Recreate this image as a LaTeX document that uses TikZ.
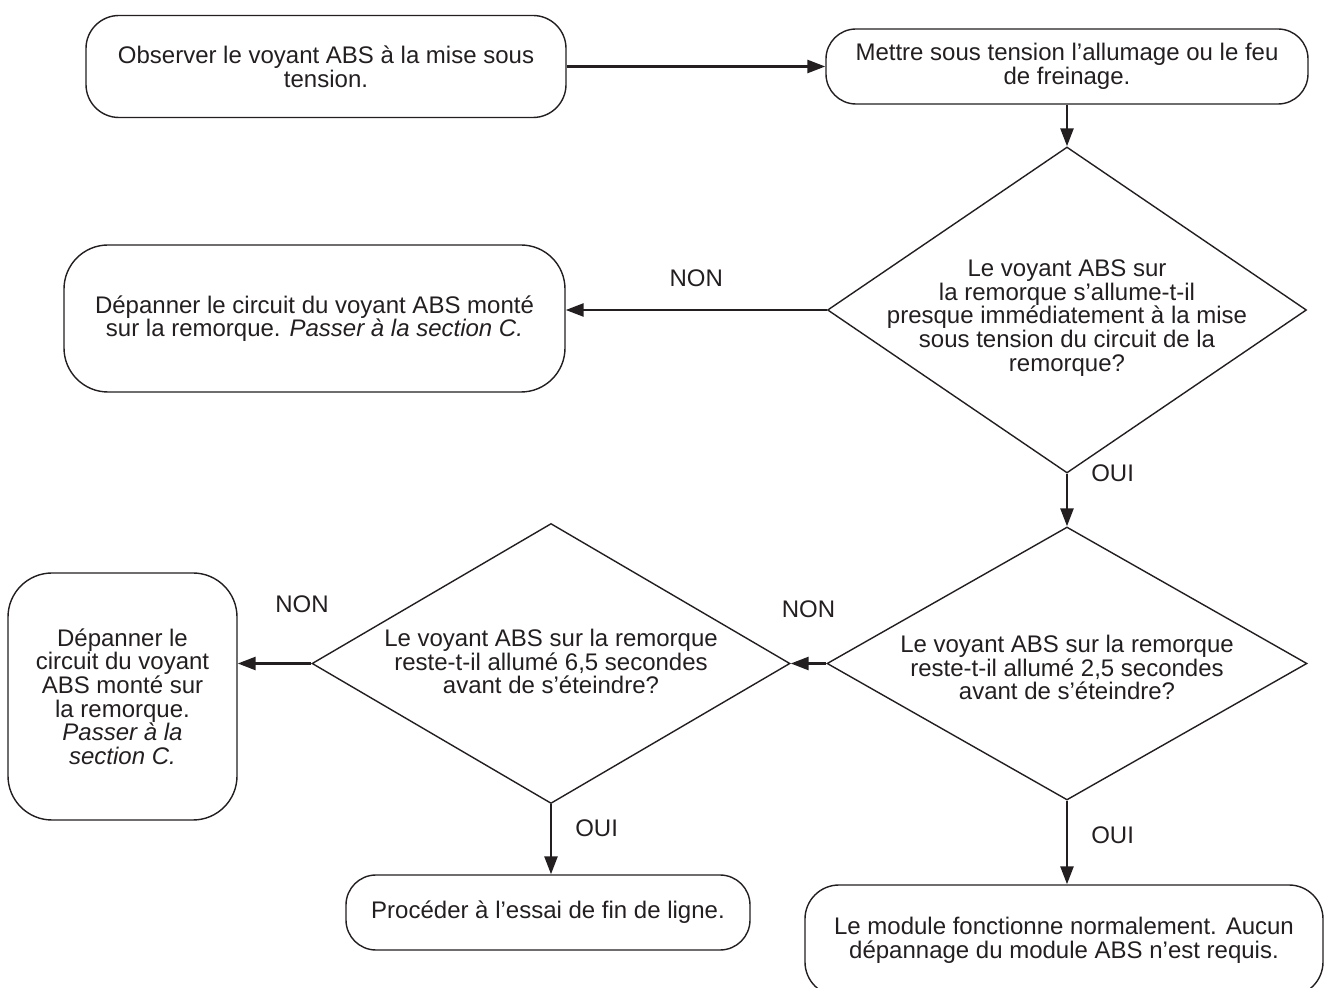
\documentclass[tikz,border=0pt]{standalone}
\usepackage{fontspec}
\setmainfont{Liberation Sans}
\usepackage{tikz}
\usetikzlibrary{shapes.geometric,arrows.meta,positioning}
\definecolor{ink}{RGB}{35,31,32}

\begin{document}
\begin{tikzpicture}[
  x=0.5pt,y=-0.5pt,
  font=\fontsize{12pt}{11.8pt}\selectfont,
  box/.style={rounded corners=16pt,draw=ink,line width=0.7pt,text=ink,
              align=center,inner sep=0pt},
  dia/.style={diamond,draw=ink,line width=0.7pt,inner sep=0pt},
  qtxt/.style={align=center,text=ink,inner sep=0pt},
  lbl/.style={text=ink,inner sep=0pt},
  arr/.style={-{Triangle[length=9pt,width=6.5pt]},line width=1.3pt,draw=ink}]

  \useasboundingbox (0,0) rectangle (1329,988);

  % boxes
  \node[box,minimum width=240pt,minimum height=51pt,rounded corners=16.5pt] (obs) at (326,66.5)
    {Observer le voyant ABS à la mise sous\\tension.};
  \node[box,minimum width=241pt,minimum height=37.5pt,rounded corners=15pt] (mettre) at (1067,66.5)
    {Mettre sous tension l’allumage ou le feu\\de freinage.};
  \node[box,minimum width=250.5pt,minimum height=73.5pt,rounded corners=22pt] (dep1) at (314.5,318.5)
    {Dépanner le circuit du voyant ABS monté\\sur la remorque. \textit{Passer à la section C.}};
  \node[box,minimum width=114.5pt,minimum height=123.5pt,rounded corners=22pt] (dep2) at (122.5,696.5)
    {Dépanner le\\circuit du voyant\\ABS monté sur\\la remorque.\\\textit{Passer à la}\\\textit{section C.}};
  \node[box,minimum width=202pt,minimum height=37.5pt,rounded corners=15pt] (fin) at (548,912.5)
    {Procéder à l’essai de fin de ligne.};
  \node[box,minimum width=259pt,minimum height=55.5pt,rounded corners=17pt] (ok) at (1064,940.5)
    {Le module fonctionne normalement. Aucun\\dépannage du module ABS n’est requis.};

  % questions
  \node[dia,minimum width=239.5pt,minimum height=163pt,
        label={[qtxt,yshift=-4pt]center:Le voyant ABS sur\\la remorque s’allume-t-il\\presque immédiatement à la mise\\sous tension du circuit de la\\remorque?}]
    (d1) at (1067,310) {};
  \node[dia,minimum width=240pt,minimum height=136.5pt,
        label={[qtxt,yshift=-2pt]center:Le voyant ABS sur la remorque\\reste-t-il allumé 2,5 secondes\\avant de s’éteindre?}]
    (d2) at (1067,663.5) {};
  \node[dia,minimum width=239pt,minimum height=140pt,
        label={[qtxt,yshift=1pt]center:Le voyant ABS sur la remorque\\reste-t-il allumé 6,5 secondes\\avant de s’éteindre?}]
    (d3) at (551,663.5) {};

  \draw[arr] (obs) -- (mettre);
  \draw[arr] (mettre) -- (d1);
  \draw[arr] (d1.west) -- node[lbl,above=11pt]{NON} (d1.west -| dep1.east);
  \draw[arr] (d1.south) -- node[lbl,pos=0,right=11.5pt]{OUI} (d2.north);
  \draw[arr] (d2.west) -- node[lbl,above=22pt]{NON} (d3.east);
  \draw[arr] (d3.west) -- node[lbl,above=24.5pt,xshift=13.75pt]{NON} (d3.west -| dep2.east);
  \draw[arr] (d3.south) -- node[lbl,pos=0.34,right=11.5pt]{OUI} (d3.south |- fin.north);
  \draw[arr] (d2.south) -- node[lbl,pos=0.41,right=11.5pt]{OUI} (d2.south |- ok.north);
\end{tikzpicture}
\end{document}
